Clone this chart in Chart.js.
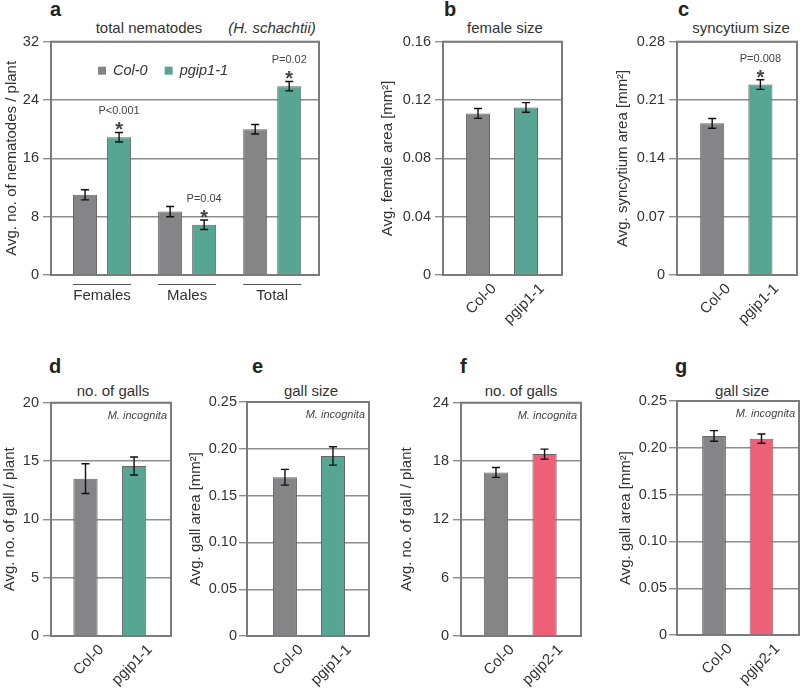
<!DOCTYPE html>
<html>
<head>
<meta charset="utf-8">
<script src="https://cdn.jsdelivr.net/npm/chart.js@4.4.1/dist/chart.umd.min.js"></script>
<style>
  body { margin: 0; background: #fff; }
  #fig { position: relative; width: 800px; height: 689px; overflow: hidden;
         font-family: "Liberation Sans", Arial, sans-serif; color: #333; }
  #fig canvas { position: absolute; }
  .t { position: absolute; white-space: nowrap; font-size: 15px; line-height: 15px; transform: translateX(-50%); }
  .lt { position: absolute; font-weight: bold; font-size: 20px; line-height: 20px; color: #222; }
</style>
</head>
<body>
<div id="fig">
  <div class="lt" style="left:50px;top:-1px">a</div>
  <div class="lt" style="left:444px;top:-1px">b</div>
  <div class="lt" style="left:678px;top:-1px">c</div>
  <div class="lt" style="left:49px;top:356px">d</div>
  <div class="lt" style="left:252px;top:356px">e</div>
  <div class="lt" style="left:460px;top:356px">f</div>
  <div class="lt" style="left:675px;top:356px">g</div>

  <div class="t" style="left:149px;top:20px">total nematodes</div>
  <div class="t" style="left:272px;top:20px;font-style:italic">(H. schachtii)</div>
  <div class="t" style="left:505px;top:20px">female size</div>
  <div class="t" style="left:741px;top:20px">syncytium size</div>
  <div class="t" style="left:113px;top:383px">no. of galls</div>
  <div class="t" style="left:311px;top:383px">gall size</div>
  <div class="t" style="left:521px;top:383px">no. of galls</div>
  <div class="t" style="left:742px;top:383px">gall size</div>
</div>

<script>
// ---- data ----
const nemGroups = ['Females', 'Males', 'Total'];
const nemCol0 = [11.0, 8.7, 20.0];
const nemCol0Err = [0.7, 0.7, 0.65];
const nemPgip1 = [18.9, 6.9, 25.9];
const nemPgip1Err = [0.65, 0.65, 0.65];
const nemPgip1P = ['P<0.001', 'P=0.04', 'P=0.02'];
const nemTicks = [0, 8, 16, 24, 32];

const genotypes1 = ['Col-0', 'pgip1-1'];
const genotypes2 = ['Col-0', 'pgip2-1'];

const femaleSize = [0.1108, 0.1149];
const femaleSizeErr = [0.0034, 0.0033];
const femaleTicks = [0, 0.04, 0.08, 0.12, 0.16];

const syncSize = [0.182, 0.2286];
const syncSizeErr = [0.0058, 0.0058];
const syncP = [null, 'P=0.008'];
const syncTicks = [0, 0.07, 0.14, 0.21, 0.28];

const gallNo1 = [13.49, 14.57];
const gallNo1Err = [1.27, 0.77];
const gallNo1Ticks = [0, 5, 10, 15, 20];

const gallSize1 = [0.1696, 0.1924];
const gallSize1Err = [0.0084, 0.0098];
const gallSizeTicks = [0, 0.05, 0.10, 0.15, 0.20, 0.25];

const gallNo2 = [16.83, 18.71];
const gallNo2Err = [0.51, 0.51];
const gallNo2Ticks = [0, 6, 12, 18, 24];

const gallSize2 = [0.2127, 0.2098];
const gallSize2Err = [0.0057, 0.005];

const GRAY = '#858588', GREEN = '#57a694', PINK = '#ee6078';
const FONT = '"Liberation Sans", Arial, sans-serif';

Chart.defaults.font.family = FONT;
Chart.defaults.color = '#333';

const fig = document.getElementById('fig');

// error bars, P values, frame, legend and other small bits
const extras = {
  id: 'extras',
  afterDatasetsDraw(chart, args, opts) {
    const ctx = chart.ctx, area = chart.chartArea, ys = chart.scales.y;
    ctx.save();
    ctx.strokeStyle = '#7b7b7b';
    ctx.lineWidth = 2;
    ctx.strokeRect(area.left, area.top, area.right - area.left, area.bottom - area.top);

    chart.data.datasets.forEach((ds, di) => {
      const meta = chart.getDatasetMeta(di);
      meta.data.forEach((bar, i) => {
        const v = ds.data[i].y, e = ds.errors[i];
        const yt = ys.getPixelForValue(v + e), yb = ys.getPixelForValue(v - e);
        ctx.strokeStyle = '#111';
        ctx.lineWidth = 1.4;
        ctx.beginPath();
        ctx.moveTo(bar.x, yt); ctx.lineTo(bar.x, yb);
        ctx.moveTo(bar.x - 4, yt); ctx.lineTo(bar.x + 4, yt);
        ctx.moveTo(bar.x - 4, yb); ctx.lineTo(bar.x + 4, yb);
        ctx.stroke();
        const note = ds.notes && ds.notes[i];
        if (note) {
          ctx.fillStyle = '#444';
          ctx.textAlign = 'center';
          ctx.textBaseline = 'middle';
          ctx.font = '11px ' + FONT;
          ctx.fillText(note, bar.x, yt - 21);
          ctx.font = 'bold 20px ' + FONT;
          ctx.textBaseline = 'alphabetic';
          ctx.fillText('*', bar.x, yt + 4);
        }
      });
    });

    if (opts.legend) {
      let x = area.left + 47;
      const cy = area.top + 29;
      ctx.font = 'italic 14.5px ' + FONT;
      ctx.textAlign = 'left';
      ctx.textBaseline = 'middle';
      chart.data.datasets.forEach(ds => {
        ctx.fillStyle = ds.backgroundColor;
        ctx.fillRect(x, cy - 4, 8, 8);
        ctx.fillStyle = '#333';
        ctx.fillText(ds.label, x + 15, cy);
        x += 15 + ctx.measureText(ds.label).width + 17;
      });
    }

    if (opts.underline) {
      const m0 = chart.getDatasetMeta(0), m1 = chart.getDatasetMeta(1);
      ctx.strokeStyle = '#555';
      ctx.lineWidth = 1;
      m0.data.forEach((b0, i) => {
        const b1 = m1.data[i];
        ctx.beginPath();
        ctx.moveTo(b0.x - b0.width / 2, area.bottom + 9.5);
        ctx.lineTo(b1.x + b1.width / 2, area.bottom + 9.5);
        ctx.stroke();
      });
    }

    if (opts.corner) {
      ctx.fillStyle = '#444';
      ctx.font = 'italic 11px ' + FONT;
      ctx.textAlign = 'right';
      ctx.textBaseline = 'middle';
      ctx.fillText(opts.corner, area.right - 4, area.top + 13);
    }
    ctx.restore();
  }
};

function toXY(vals) {
  return vals.map((v, i) => ({ x: i, y: v }));
}

function panel(cfg) {
  const B = cfg.box;
  const cvLeft = B.yTitleX - 9;
  const cvTop = B.top - 12;
  const yW = B.left - cvLeft;
  const xH = cfg.rotate ? 62 : 32;
  const cv = document.createElement('canvas');
  cv.width = B.right + 4 - cvLeft;
  cv.height = B.bottom + xH - cvTop;
  cv.style.left = cvLeft + 'px';
  cv.style.top = cvTop + 'px';
  fig.appendChild(cv);

  new Chart(cv, {
    type: 'bar',
    data: { datasets: cfg.datasets },
    options: {
      responsive: false,
      animation: false,
      events: [],
      devicePixelRatio: 1,
      layout: { padding: { top: 12, right: 4, left: 0, bottom: 0 } },
      datasets: { bar: { categoryPercentage: cfg.catPct, barPercentage: cfg.barPct, borderWidth: 1 } },
      plugins: {
        legend: { display: false },
        tooltip: { enabled: false },
        extras: cfg.extras || {}
      },
      scales: {
        x: {
          type: 'linear',
          min: cfg.xMin,
          max: cfg.xMax,
          offset: false,
          grid: { display: false, offset: false },
          border: { display: false },
          afterBuildTicks: s => { s.ticks = cfg.labels.map((_, i) => ({ value: i })); },
          afterFit: s => { s.height = xH; },
          ticks: {
            autoSkip: false,
            font: { size: 15 },
            color: '#333',
            padding: cfg.rotate ? -3 : 4,
            minRotation: cfg.rotate ? 45 : 0,
            maxRotation: cfg.rotate ? 45 : 0,
            labelOffset: cfg.rotate ? 16 : 0,
            callback: v => cfg.labels[v]
          }
        },
        y: {
          min: cfg.yTicks[0],
          max: cfg.yTicks[cfg.yTicks.length - 1],
          afterBuildTicks: s => { s.ticks = cfg.yTicks.map(v => ({ value: v })); },
          afterFit: s => { s.width = yW; },
          grid: { color: '#8d8d8d', lineWidth: 1.4, tickLength: 8 },
          border: { display: false },
          ticks: {
            padding: cfg.tickPad || 4,
            font: { size: 14.5 },
            color: '#333',
            callback: v => v === 0 ? '0' : v.toFixed(cfg.dec)
          },
          title: { display: true, text: cfg.yTitle, font: { size: 15 }, color: '#333', padding: 0 }
        }
      }
    },
    plugins: [extras]
  });
}

function pairSet(vals, errs, colors, notes) {
  return [{
    data: toXY(vals),
    errors: errs,
    notes: notes || null,
    backgroundColor: colors,
    borderColor: '#666'
  }];
}

// a
panel({
  box: { left: 51, top: 41, right: 319, bottom: 275, yTitleX: 12 },
  labels: nemGroups, xMin: -0.6, xMax: 2.55, catPct: 0.8, barPct: 0.706,
  yTicks: nemTicks, dec: 0, yTitle: 'Avg. no. of nematodes / plant',
  extras: { legend: true, underline: true },
  datasets: [
    { label: 'Col-0', data: toXY(nemCol0), errors: nemCol0Err, backgroundColor: GRAY, borderColor: '#666' },
    { label: 'pgip1-1', data: toXY(nemPgip1), errors: nemPgip1Err, notes: nemPgip1P, backgroundColor: GREEN, borderColor: '#666' }
  ]
});

// b
panel({
  box: { left: 443, top: 41, right: 562, bottom: 275, yTitleX: 388 },
  labels: genotypes1, xMin: -0.73, xMax: 1.75, catPct: 1, barPct: 0.5, rotate: true,
  yTicks: femaleTicks, dec: 2, yTitle: 'Avg. female area [mm²]',
  datasets: pairSet(femaleSize, femaleSizeErr, [GRAY, GREEN])
});

// c
panel({
  box: { left: 677, top: 41, right: 797, bottom: 275, yTitleX: 623 },
  labels: genotypes1, xMin: -0.73, xMax: 1.76, catPct: 1, barPct: 0.5, rotate: true,
  yTicks: syncTicks, dec: 2, yTitle: 'Avg. syncytium area [mm²]',
  datasets: pairSet(syncSize, syncSizeErr, [GRAY, GREEN], syncP)
});

// d
panel({
  box: { left: 51, top: 402, right: 171, bottom: 636, yTitleX: 10 },
  labels: genotypes1, xMin: -0.71, xMax: 1.76, catPct: 1, barPct: 0.5, rotate: true,
  yTicks: gallNo1Ticks, dec: 0, yTitle: 'Avg. no. of gall / plant',
  extras: { corner: 'M. incognita' },
  datasets: pairSet(gallNo1, gallNo1Err, [GRAY, GREEN])
});

// e
panel({
  box: { left: 247, top: 402, right: 369, bottom: 636, yTitleX: 196 },
  labels: genotypes1, xMin: -0.79, xMax: 1.75, catPct: 1, barPct: 0.5, rotate: true,
  yTicks: gallSizeTicks, dec: 2, yTitle: 'Avg. gall area [mm²]', tickPad: 2,
  extras: { corner: 'M. incognita' },
  datasets: pairSet(gallSize1, gallSize1Err, [GRAY, GREEN])
});

// f
panel({
  box: { left: 461, top: 402, right: 581, bottom: 636, yTitleX: 407 },
  labels: genotypes2, xMin: -0.72, xMax: 1.75, catPct: 1, barPct: 0.5, rotate: true,
  yTicks: gallNo2Ticks, dec: 0, yTitle: 'Avg. no. of gall / plant',
  extras: { corner: 'M. incognita' },
  datasets: pairSet(gallNo2, gallNo2Err, [GRAY, PINK])
});

// g
panel({
  box: { left: 677, top: 401, right: 799, bottom: 635, yTitleX: 626 },
  labels: genotypes2, xMin: -0.78, xMax: 1.79, catPct: 1, barPct: 0.5, rotate: true,
  yTicks: gallSizeTicks, dec: 2, yTitle: 'Avg. gall area [mm²]', tickPad: 2,
  extras: { corner: 'M. incognita' },
  datasets: pairSet(gallSize2, gallSize2Err, [GRAY, PINK])
});
</script>
</body>
</html>
